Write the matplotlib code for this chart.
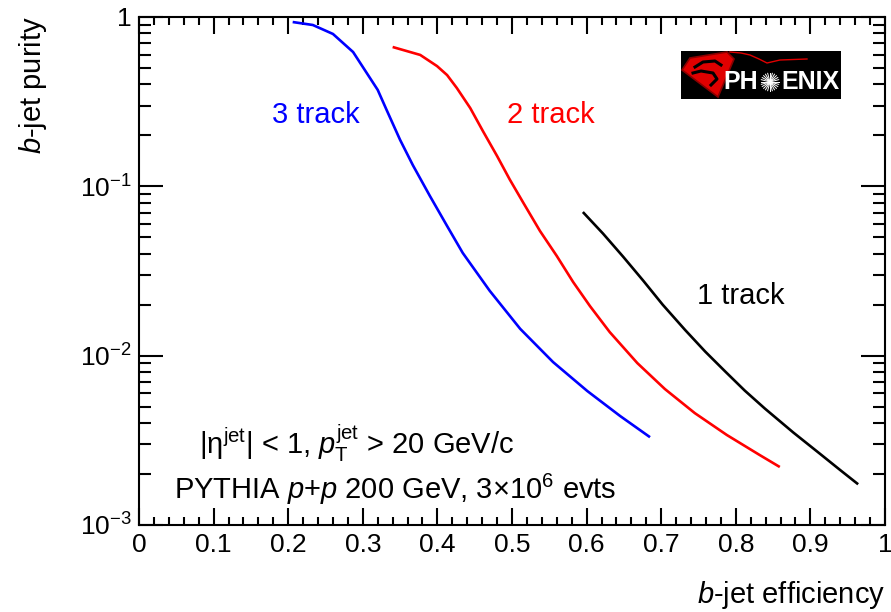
import matplotlib
matplotlib.use("Agg")
import matplotlib.pyplot as plt
import numpy as np
from matplotlib.ticker import FixedLocator, FixedFormatter, MultipleLocator, LogLocator, NullFormatter
from matplotlib.patches import Polygon

plt.rcParams['font.family'] = ['Liberation Sans', 'DejaVu Sans']
plt.rcParams['mathtext.fontset'] = 'custom'
plt.rcParams['mathtext.rm'] = 'Liberation Sans'
plt.rcParams['mathtext.it'] = 'Liberation Sans:italic'
plt.rcParams['mathtext.bf'] = 'Liberation Sans:bold'

# ---- data ----
eff_3trk = [0.206, 0.233, 0.260, 0.287, 0.300, 0.320, 0.332, 0.350, 0.367, 0.390,
            0.413, 0.434, 0.470, 0.511, 0.555, 0.601, 0.645, 0.685]
pur_3trk = [0.934, 0.897, 0.794, 0.621, 0.507, 0.371, 0.282, 0.188, 0.1336, 0.0876,
            0.0583, 0.0404, 0.0242, 0.01440, 0.00917, 0.00618, 0.00440, 0.00330]

eff_2trk = [0.340, 0.377, 0.3995, 0.413, 0.426, 0.444, 0.461, 0.480, 0.497, 0.515,
            0.5375, 0.560, 0.582, 0.6046, 0.631, 0.668, 0.705, 0.745, 0.788, 0.832,
            0.859]
pur_2trk = [0.665, 0.597, 0.513, 0.454, 0.381, 0.290, 0.212, 0.151, 0.1097, 0.0802,
            0.0545, 0.0388, 0.0272, 0.0196, 0.01378, 0.00904, 0.00635, 0.00458,
            0.00340, 0.00259, 0.00220]

eff_1trk = [0.595, 0.622, 0.649, 0.676, 0.702, 0.732, 0.759, 0.786, 0.812, 0.839,
            0.877, 0.913, 0.940, 0.964]
pur_1trk = [0.0705, 0.0526, 0.0384, 0.0277, 0.0200, 0.01419, 0.01057, 0.00805,
            0.00622, 0.00487, 0.00352, 0.00263, 0.00211, 0.00174]

x_ticks = [0, 0.1, 0.2, 0.3, 0.4, 0.5, 0.6, 0.7, 0.8, 0.9, 1]
x_ticklabels = ['0', '0.1', '0.2', '0.3', '0.4', '0.5', '0.6', '0.7', '0.8', '0.9', '1']
y_ticks = [1e-3, 1e-2, 1e-1, 1]
y_ticklabels = [r'$10^{-3}$', r'$10^{-2}$', r'$10^{-1}$', '1']

W, H = 891, 612
fig = plt.figure(figsize=(W / 100, H / 100), dpi=100)
ax = fig.add_axes([139 / W, 1 - 525 / H, (885 - 139) / W, (525 - 17) / H])

for xs, ys, c in [(eff_3trk, pur_3trk, '#0000ff'),
                  (eff_2trk, pur_2trk, '#ff0000'),
                  (eff_1trk, pur_1trk, 'black')]:
    ax.plot(xs, ys, color=c, lw=1.9, solid_joinstyle='round', solid_capstyle='butt')
ax.set_yscale('log')
ax.set_xlim(0, 1)
ax.set_ylim(1e-3, 1)

for s in ax.spines.values():
    s.set_linewidth(1.5)

ax.xaxis.set_major_locator(FixedLocator(x_ticks))
ax.xaxis.set_major_formatter(FixedFormatter(x_ticklabels))
ax.xaxis.set_minor_locator(MultipleLocator(0.02))
ax.yaxis.set_major_locator(FixedLocator(y_ticks))
ax.yaxis.set_major_formatter(FixedFormatter(y_ticklabels))
ax.yaxis.set_minor_locator(LogLocator(base=10, subs=np.arange(2, 10)))
ax.yaxis.set_minor_formatter(NullFormatter())

ax.tick_params(axis='x', which='major', direction='in', length=12, width=1.5,
               top=True, bottom=True, labelsize=19, pad=6)
ax.tick_params(axis='x', which='minor', direction='in', length=6, width=1.5,
               top=True, bottom=True)
ax.tick_params(axis='y', which='major', direction='in', length=17, width=1.5,
               left=True, right=True, labelsize=19, pad=5)
ax.tick_params(axis='y', which='minor', direction='in', length=8.5, width=1.5,
               left=True, right=True)

# axis titles (ROOT style)
fig.text(885 / W, 1 - 603 / H, r'$b$-jet efficiency', ha='right', va='baseline', fontsize=21)
fig.text(33 / W, 1 - 16 / H, r'$b$-jet purity', rotation=90, ha='center', va='top', fontsize=21)

# curve labels
ax.text(0.237, 0.264, '3 track', color='#0000ff', fontsize=21, ha='center', va='center')
ax.text(0.552, 0.264, '2 track', color='#ff0000', fontsize=21, ha='center', va='center')
ax.text(0.807, 0.0225, '1 track', color='black', fontsize=21, ha='center', va='center')

# annotations
fig.text(357 / W, 1 - 454 / H,
         r'|η$^{\mathrm{jet}}$| < 1, $p_{\mathrm{T}}^{\mathrm{jet}}$ > 20 GeV/c',
         ha='center', va='baseline', fontsize=21)
fig.text(395 / W, 1 - 499 / H,
         r'PYTHIA $p$+$p$ 200 GeV, 3$\times$10$^{6}$ evts',
         ha='center', va='baseline', fontsize=21)

# PHENIX logo
lx0, ly0, lw_, lh_ = 681, 51, 160, 48
lax = fig.add_axes([lx0 / W, 1 - (ly0 + lh_) / H, lw_ / W, lh_ / H])
lax.set_xlim(0, lw_)
lax.set_ylim(lh_, 0)
lax.set_facecolor('black')
lax.set_xticks([])
lax.set_yticks([])
for s in lax.spines.values():
    s.set_visible(False)
lax.add_patch(Polygon([(1, 19), (9, 7), (46, 1), (53, 8), (37, 46)], closed=True,
                      facecolor='#e00000', edgecolor='#8a0000', lw=1.2))
lax.plot([14, 22, 34, 40], [16, 11, 10, 14], color='black', lw=2.2)
lax.plot([12, 20, 32, 36, 30], [22, 20, 22, 28, 34], color='black', lw=2.2)
lax.plot([49, 60, 69, 78, 86, 99, 126], [1, 2, 4, 8, 12, 9, 8], color='#e00000', lw=1.0)
lax.text(42, 31, 'PH', color='white', fontsize=18, fontweight='bold', ha='left', va='center')
lax.text(100, 31, 'ENIX', color='white', fontsize=18, fontweight='bold', ha='left', va='center')
for ang in np.arange(0, 180, 15):
    a = np.deg2rad(ang)
    lax.plot([89 - 9 * np.cos(a), 89 + 9 * np.cos(a)],
             [31 - 9 * np.sin(a), 31 + 9 * np.sin(a)], color='white', lw=0.7)

fig.savefig('out.png', dpi=100)
